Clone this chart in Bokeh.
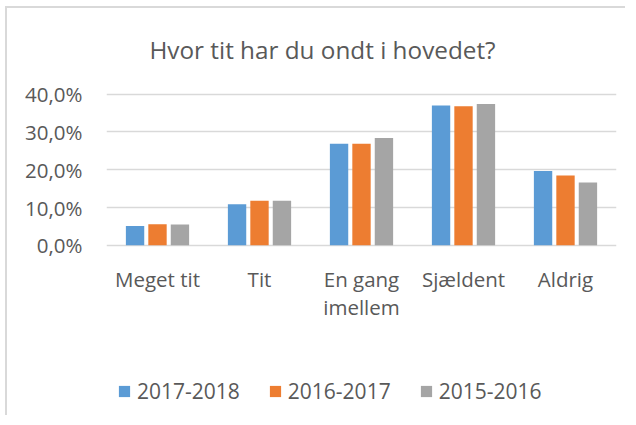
from bokeh.plotting import figure
from bokeh.models import FactorRange, Legend, LegendItem, FixedTicker, ColumnDataSource, LabelSet, Label
from bokeh.core.properties import value
from bokeh.transform import dodge
from bokeh.embed import file_html
from bokeh.resources import INLINE

categories = ["Meget tit", "Tit", "En gang imellem", "Sjældent", "Aldrig"]
cat_line1 = ["Meget tit", "Tit", "En gang", "Sjældent", "Aldrig"]
cat_line2 = ["", "", "imellem", "", ""]
series_names = ["2017-2018", "2016-2017", "2015-2016"]
s2017_2018 = [5.1, 10.9, 26.9, 37.0, 19.7]
s2016_2017 = [5.6, 11.8, 26.9, 36.8, 18.5]
s2015_2016 = [5.5, 11.8, 28.4, 37.4, 16.6]
y_ticks = [0, 10, 20, 30, 40]
y_tick_labels = ["0,0%", "10,0%", "20,0%", "30,0%", "40,0%"]
title_text = "Hvor tit har du ondt i hovedet?"

colors = ["#5b9bd5", "#ed7d31", "#a5a5a5"]
FONT = "Open Sans"
TXT = "#595959"

source = ColumnDataSource(dict(cat=categories, a=s2017_2018, b=s2016_2017, c=s2015_2016,
                               l1=cat_line1, l2=cat_line2))

# the frame spans the whole canvas height; title, category labels and legend
# live inside it, the bars occupy the 0..40 band
p = figure(x_range=FactorRange(*categories), y_range=(-45.6, 62.7),
           width=620, height=409, output_backend="svg", toolbar_location=None,
           min_border_left=99, min_border_right=11, min_border_top=0, min_border_bottom=0)
p.styles = {"margin-left": "5px", "margin-top": "6px",
            "border-left": "2px solid #d9d9d9", "border-top": "2px solid #d9d9d9"}
p.outline_line_color = None
p.background_fill_color = "white"
p.border_fill_color = "white"

renderers = []
for col, off, color in zip(["a", "b", "c"], [-0.22, 0.0, 0.22], colors):
    r = p.vbar(x=dodge("cat", off, range=p.x_range), top=col, width=0.18, source=source,
               fill_color=color, line_color=None)
    renderers.append(r)

p.xgrid.grid_line_color = None
p.ygrid.ticker = FixedTicker(ticks=y_ticks)
p.ygrid.grid_line_color = "#d9d9d9"
p.ygrid.grid_line_width = 1.5

p.xaxis.visible = False
p.yaxis.ticker = FixedTicker(ticks=y_ticks)
p.yaxis.major_label_overrides = {t: l for t, l in zip(y_ticks, y_tick_labels)}
p.yaxis.axis_line_color = None
p.yaxis.major_tick_line_color = None
p.yaxis.minor_tick_line_color = None
p.yaxis.major_label_text_font = FONT
p.yaxis.major_label_text_font_size = "20.5px"
p.yaxis.major_label_text_color = TXT
p.yaxis.major_label_standoff = 18

title = Label(x=216, y=368, x_units="screen", y_units="screen", text=title_text,
              text_align="center", text_baseline="alphabetic", text_font=FONT,
              text_font_size="24.3px", text_color=TXT)
p.add_layout(title)

for col, ypos in (("l1", 131), ("l2", 103)):
    ls = LabelSet(x="cat", y=ypos, y_units="screen", text=col, source=source,
                  text_align="center", text_baseline="alphabetic", text_font=value(FONT),
                  text_font_size=value("20.5px"), text_color=TXT)
    p.add_layout(ls)

legend = Legend(items=[LegendItem(label=n, renderers=[r]) for n, r in zip(series_names, renderers)],
                orientation="horizontal", location=(11, 12), padding=0, margin=0,
                spacing=28, glyph_width=14, glyph_height=14, label_standoff=6,
                label_text_font=FONT, label_text_font_size="21px", label_text_color=TXT,
                border_line_color=None, background_fill_alpha=0)
p.add_layout(legend, "center")

open("out.html", "w").write(file_html(p, INLINE))
